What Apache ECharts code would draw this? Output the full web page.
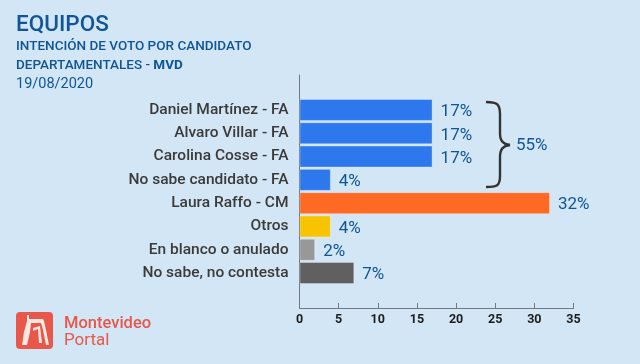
<!DOCTYPE html>
<html><head><meta charset="utf-8">
<style>html,body{margin:0;padding:0;background:#d2e6f5}#c{width:640px;height:364px}</style>
<script src="https://cdn.jsdelivr.net/npm/echarts@6/dist/echarts.min.js"></script>
</head><body><div id="c"></div>
<script>
const categories = ["", "Daniel Martínez - FA", "Alvaro Villar - FA", "Carolina Cosse - FA", "No sabe candidato - FA", "Laura Raffo - CM", "Otros", "En blanco o anulado", "No sabe, no contesta", " "];
const values = [null, 17, 17, 17, 4, 32, 4, 2, 7, null];
const barColors = [null, "#2e78ee", "#2e78ee", "#2e78ee", "#2e78ee", "#ff6a24", "#f6c400", "#989898", "#606060", null];
const xTicks = [0, 35, 5];
const bracketTotal = "55%";
const FONT = "Roboto, sans-serif";
const BLUE = "#0f5597";
const RED = "#e8574a";
const LOGO = '#f8e8e2';
const braceStyle = {fill: 'none', stroke: '#333333', lineWidth: 2.4};
const curve = (x1, y1, cx1, cy1, cx2, cy2, x2, y2) => ({type: 'bezierCurve', shape: {x1, y1, cpx1: cx1, cpy1: cy1, cpx2: cx2, cpy2: cy2, x2, y2}, style: braceStyle});
const line = (x1, y1, x2, y2) => ({type: 'line', shape: {x1, y1, x2, y2}, style: braceStyle});
const poly = (points, fill) => ({type: 'polygon', shape: {points}, style: {fill}});
const chart = echarts.init(document.getElementById('c'));
chart.setOption({
  backgroundColor: '#d2e6f5',
  animation: false,
  grid: {left: 299.5, right: 66.5, top: 75, bottom: 56},
  xAxis: {type: 'value', min: xTicks[0], max: xTicks[1], interval: xTicks[2], splitLine: {show: false},
    axisLine: {show: true, lineStyle: {color: '#6f7a82', width: 1}},
    axisTick: {show: true, length: 5, inside: true, lineStyle: {color: '#6f7a82'}},
    axisLabel: {color: '#1c1c1c', fontFamily: FONT, fontSize: 12.5, fontWeight: 700, margin: 5, showMinLabel: true, showMaxLabel: true, hideOverlap: false}},
  yAxis: {type: 'category', inverse: true, data: categories,
    axisLine: {show: true, onZero: false, lineStyle: {color: '#6f7a82', width: 1}},
    axisTick: {show: false},
    axisLabel: {color: '#3a3a3a', fontFamily: FONT, fontSize: 15.5, fontWeight: 500, margin: 11, interval: 0}},
  series: [{type: 'bar', barWidth: 22,
    data: values.map((v, i) => ({value: v, itemStyle: {color: barColors[i], borderColor: 'rgba(255,255,255,0.3)', borderWidth: v == null ? 0 : 1}})),
    label: {show: true, position: 'right', distance: 8, offset: [0, 2], color: BLUE, fontFamily: FONT, fontSize: 17, fontWeight: 400,
      formatter: p => p.value == null ? '' : p.value + '%'}}],
  graphic: [
    {type: 'text', left: 16, top: 14, style: {text: 'EQUIPOS', fill: BLUE, font: '500 22.5px ' + FONT}},
    {type: 'text', left: 16, top: 40, style: {text: 'INTENCIÓN DE VOTO POR CANDIDATO', fill: BLUE, font: '500 13.5px ' + FONT}},
    {type: 'text', left: 16, top: 59, style: {rich: {a: {fill: BLUE, font: '500 13.5px ' + FONT}, b: {fill: BLUE, font: '700 13.5px ' + FONT}}, text: '{a|DEPARTAMENTALES - }{b|MVD}'}},
    {type: 'text', left: 16, top: 77, style: {text: '19/08/2020', fill: BLUE, font: '400 14.5px ' + FONT}},
    curve(486, 102, 497, 102, 500, 104, 500, 114),
    line(500, 114, 500, 133),
    curve(500, 133, 500, 141, 503, 144, 510, 145),
    curve(510, 145, 503, 146, 500, 149, 500, 157),
    line(500, 157, 500, 176),
    curve(500, 176, 500, 186, 497, 187, 486, 187),
    {type: 'text', left: 516, top: 137, style: {text: bracketTotal, fill: BLUE, font: '400 17px ' + FONT}},
    {type: 'rect', shape: {x: 16, y: 312, width: 37, height: 37, r: 4}, style: {fill: RED}},
    poly([[22,345],[24,332],[27,321],[27,315],[29,315],[29,319],[43,319],[44,321],[46,330],[49,345],[46,345],[43,330],[41,323],[31,323],[30,332],[27,345]], LOGO),
    poly([[33,331],[33,328],[40,326],[42,343],[39,343],[38,329]], LOGO),
    {type: 'text', left: 64, top: 315, style: {text: 'Montevideo', fill: RED, font: '500 16.5px ' + FONT}},
    {type: 'text', left: 64, top: 332, style: {text: 'Portal', fill: RED, font: '400 17px ' + FONT}}
  ]
});
</script></body></html>
